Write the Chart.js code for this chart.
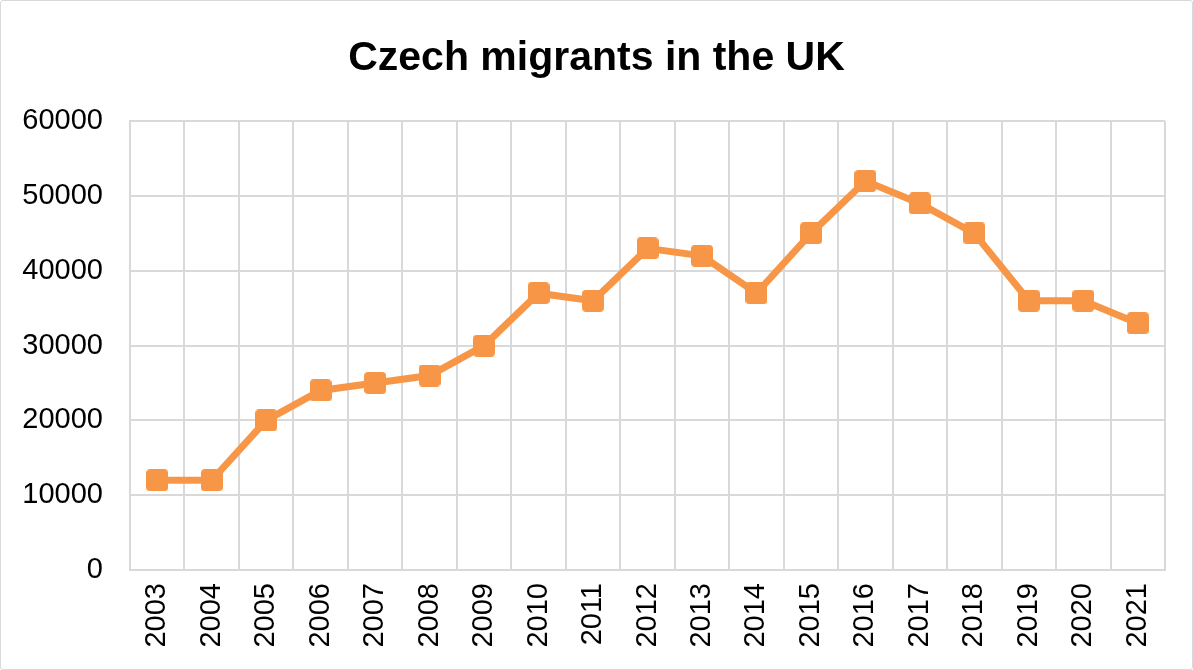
<!DOCTYPE html>
<html>
<head>
<meta charset="utf-8">
<script src="https://cdn.jsdelivr.net/npm/chart.js@4/dist/chart.umd.min.js"></script>
<style>
  html, body { margin: 0; padding: 0; background: #fff; }
  #wrap { position: absolute; left: 0; top: 0; width: 1191px; height: 668px; border: 1px solid #d9d9d9; border-radius: 3px; background: #fff; }
  canvas { display: block; }
</style>
</head>
<body>
<div id="wrap"><canvas id="c"></canvas></div>
<script>
const categories = ['2003','2004','2005','2006','2007','2008','2009','2010','2011','2012','2013','2014','2015','2016','2017','2018','2019','2020','2021'];
const migrants = [12000, 12000, 20000, 24000, 25000, 26000, 30000, 37000, 36000, 43000, 42000, 37000, 45000, 52000, 49000, 45000, 36000, 36000, 33000];
const yTicks = [0, 10000, 20000, 30000, 40000, 50000, 60000];
const titleText = 'Czech migrants in the UK';

const FONT = "'Liberation Sans', Arial, sans-serif";
const ORANGE = '#F79646';
const GRID = '#d9d9d9';

// rounded square marker
const marker = document.createElement('canvas');
marker.width = 22; marker.height = 22;
(function () {
  const g = marker.getContext('2d');
  g.fillStyle = ORANGE;
  g.beginPath();
  g.roundRect(0, 0, 22, 22, 4);
  g.fill();
})();

// center the title on the whole canvas, not only the padded area
const centerTitle = {
  id: 'centerTitle',
  afterLayout(chart) {
    const tb = chart.titleBlock;
    if (tb) { tb.left = 0; tb.right = chart.width; tb.width = chart.width; }
  }
};

new Chart(document.getElementById('c'), {
  type: 'line',
  data: {
    labels: categories,
    datasets: [{
      label: 'Czech migrants',
      data: migrants,
      borderColor: ORANGE,
      backgroundColor: ORANGE,
      borderWidth: 7,
      tension: 0,
      pointStyle: marker,
      pointRadius: 11,
      pointHoverRadius: 11
    }]
  },
  plugins: [centerTitle],
  options: {
    responsive: true,
    maintainAspectRatio: false,
    animation: false,
    layout: { padding: { top: 0, right: 27, bottom: 0, left: 0 } },
    plugins: {
      legend: { display: false },
      tooltip: { enabled: false },
      title: {
        display: true,
        text: titleText,
        color: '#000',
        font: { family: FONT, size: 41, weight: 'bold' },
        padding: { top: 33, bottom: 38 }
      }
    },
    scales: {
      x: {
        type: 'category',
        offset: true,
        grid: { offset: true, color: GRID, lineWidth: 2, drawTicks: false },
        border: { color: GRID, width: 2 },
        ticks: {
          color: '#000',
          font: { family: FONT, size: 29 },
          minRotation: 90,
          maxRotation: 90,
          padding: 13,
          autoSkip: false
        },
        afterFit: (s) => { s.height = 99; }
      },
      y: {
        min: 0,
        max: 60000,
        afterBuildTicks: (s) => { s.ticks = yTicks.map(v => ({ value: v })); },
        grid: { color: GRID, lineWidth: 2, drawTicks: false },
        border: { color: GRID, width: 2 },
        ticks: {
          color: '#000',
          font: { family: FONT, size: 29 },
          padding: 27,
          callback: (v) => String(v)
        },
        afterFit: (s) => { s.width = 129; }
      }
    }
  }
});
</script>
</body>
</html>
